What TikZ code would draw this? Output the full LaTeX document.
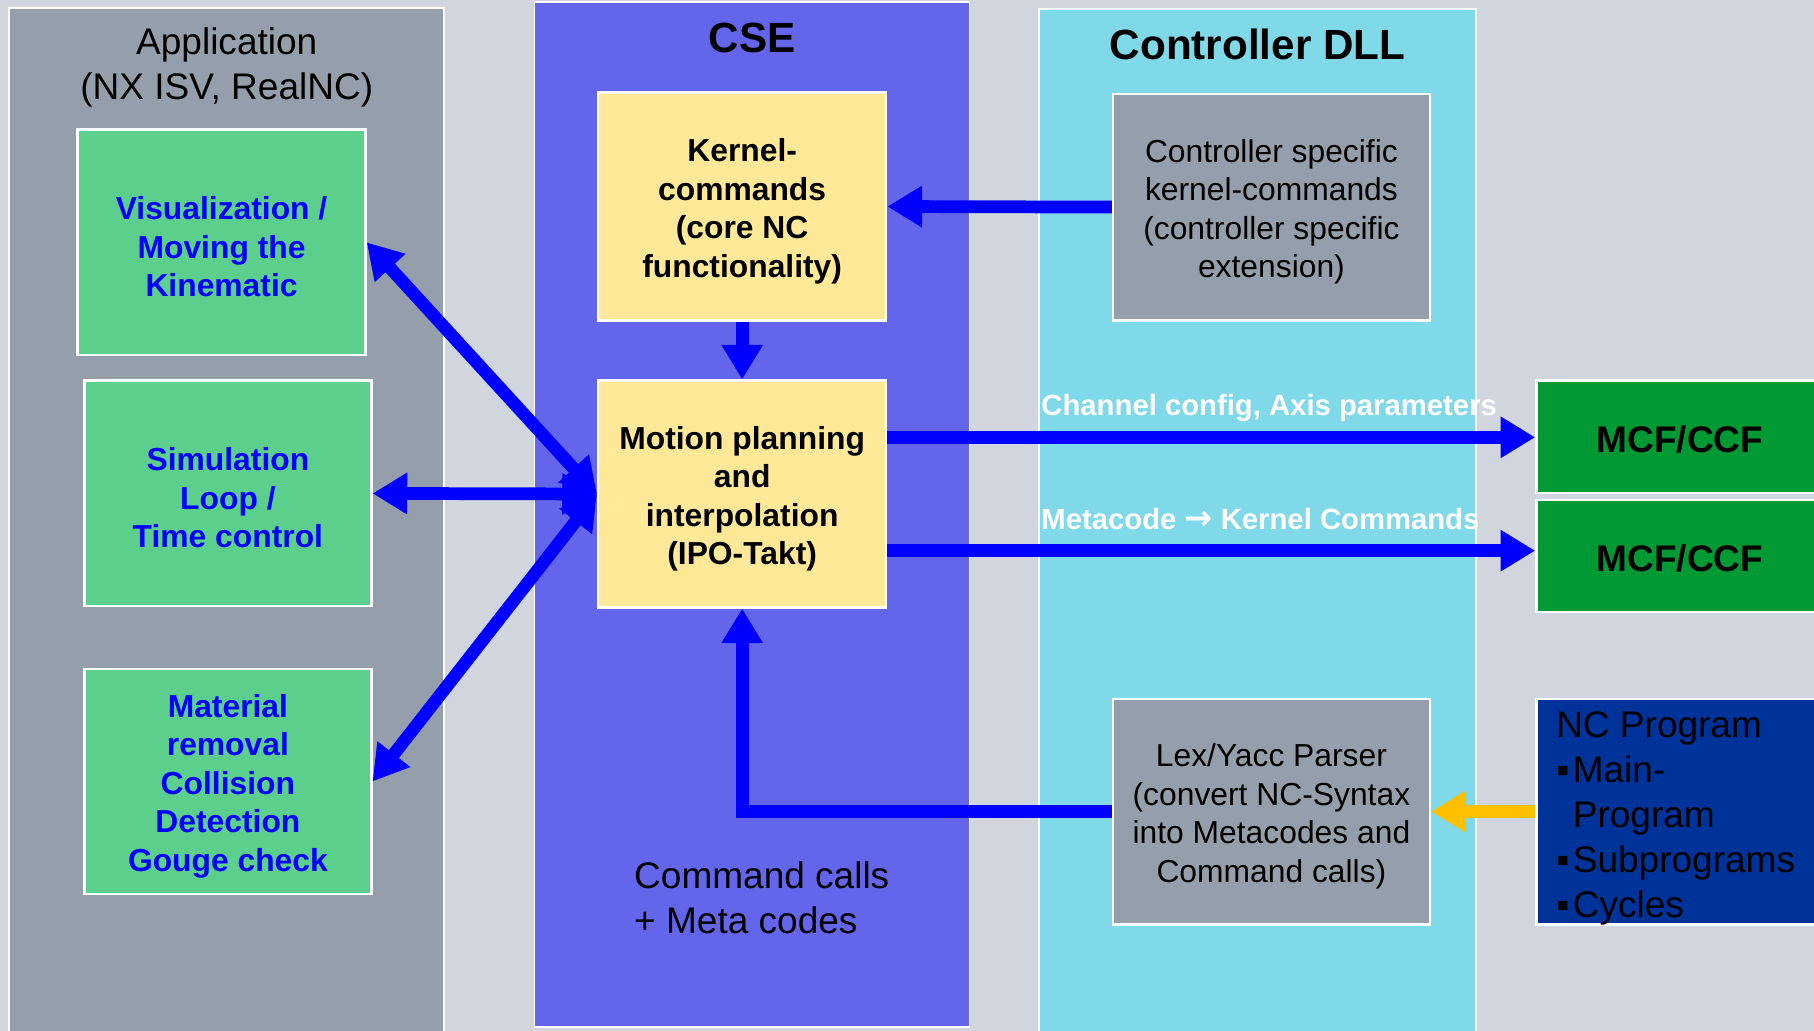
\documentclass[tikz,border=0pt]{standalone}
\usepackage{fontspec}
\setmainfont{Liberation Sans}
\newfontfamily\arrowfont{DejaVu Sans}
\usetikzlibrary{arrows.meta}

\definecolor{bg}{HTML}{D1D5DE}
\definecolor{appgray}{HTML}{959FAB}
\definecolor{cseblue}{HTML}{6366EB}
\definecolor{dllcyan}{HTML}{80D9E8}
\definecolor{boxgreen}{HTML}{5BCF8B}
\definecolor{boxyellow}{HTML}{FFE999}
\definecolor{mcfgreen}{HTML}{009933}
\definecolor{ncblue}{HTML}{003399}
\definecolor{flowblue}{HTML}{0000FF}
\definecolor{feedamber}{HTML}{FFC000}

\begin{document}
\begin{tikzpicture}[x=1pt,y=-1pt,
  panel/.style={draw=white, line width=1.5pt},
  block/.style={draw=white, line width=2pt, inner sep=0pt},
  inside/.style={inner sep=0pt, align=center, yshift=-4pt},
  boxtext/.style={font=\fontsize{27.5}{33.3}\selectfont},
  boxbold/.style={font=\bfseries\fontsize{27.5}{33.3}\selectfont},
  bigtext/.style={font=\fontsize{32}{39}\selectfont},
  titletext/.style={font=\bfseries\fontsize{36.5}{44}\selectfont},
  flowlabel/.style={font=\bfseries\fontsize{25.3}{30}\selectfont, text=white, inner sep=0pt, anchor=west},
  flow/.style={draw=flowblue, line width=11pt, -{Triangle[length=30pt,width=34pt]}},
  flowboth/.style={draw=flowblue, line width=11pt, {Triangle[length=30pt,width=34pt]}-{Triangle[length=30pt,width=34pt]}},
  feed/.style={draw=feedamber, line width=11pt, -{Triangle[length=30pt,width=34pt]}}
]
\clip (0,0) rectangle (1568,891);
\fill[bg] (0,0) rectangle (1568,891);

% layer panels
\filldraw[panel, fill=appgray] (8,7) rectangle (384,900);
\filldraw[panel, fill=cseblue] (462,2) rectangle (838,888);
\filldraw[panel, fill=dllcyan] (898,8) rectangle (1276,900);

% panel titles
\node[bigtext, align=center, inner sep=0pt] (apptitle) at (196,58) {Application\\(NX ISV, RealNC)};
\node[titletext, inner sep=0pt] (csetitle) at (650,33) {CSE};
\node[titletext, inner sep=0pt] (dlltitle) at (1087,38) {Controller DLL};

% application blocks
\node[block, fill=boxgreen, minimum width=249pt, minimum height=195pt] (vis) at (191.5,209.5) {};
\node[block, fill=boxgreen, minimum width=248pt, minimum height=195pt] (sim) at (197,426.5) {};
\node[block, fill=boxgreen, minimum width=248pt, minimum height=195pt] (mat) at (197,675.5) {};
\node[inside, boxbold, text=flowblue] (vistext) at (vis.center) {Visualization /\\Moving the\\Kinematic};
\node[inside, boxbold, text=flowblue] (simtext) at (sim.center) {Simulation\\Loop /\\Time control};
\node[inside, boxbold, text=flowblue] (mattext) at (mat.center) {Material\\removal\\Collision\\Detection\\Gouge check};

% CSE blocks
\node[block, fill=boxyellow, minimum width=249pt, minimum height=197pt] (kern) at (641.5,178.5) {};
\node[block, fill=boxyellow, minimum width=249pt, minimum height=196pt] (motion) at (641.5,427) {};
\node[inside, boxbold] (kerntext) at (kern.center) {Kernel-\\commands\\(core NC\\functionality)};
\node[inside, boxbold] (motiontext) at (motion.center) {Motion planning\\and\\interpolation\\(IPO-Takt)};
\node[bigtext, align=left, inner sep=0pt, anchor=west] (calls) at (548,776) {Command calls\\+ Meta codes};

% controller DLL blocks
\node[block, fill=appgray, minimum width=274pt, minimum height=196pt] (cs) at (1099,179) {};
\node[block, fill=appgray, minimum width=274pt, minimum height=195pt] (lex) at (1099,701.5) {};
\node[inside, boxtext] (cstext) at (cs.center) {Controller specific\\kernel-commands\\(controller specific\\extension)};
\node[inside, boxtext] (lextext) at (lex.center) {Lex/Yacc Parser\\(convert NC-Syntax\\into Metacodes and\\Command calls)};

% external files
\node[block, fill=mcfgreen, minimum width=248pt, minimum height=97pt] (mcfa) at (1452,377.5) {};
\node[block, fill=mcfgreen, minimum width=248pt, minimum height=97pt] (mcfb) at (1452,480.5) {};
\node[inner sep=0pt, font=\bfseries\fontsize{32}{39}\selectfont] (mcfatext) at ([yshift=-2pt]mcfa.center) {MCF/CCF};
\node[inner sep=0pt, font=\bfseries\fontsize{32}{39}\selectfont] (mcfbtext) at ([yshift=-2pt]mcfb.center) {MCF/CCF};
\node[block, fill=ncblue, minimum width=248pt, minimum height=195pt] (nc) at (1452,701.5) {};
\node[bigtext, inner sep=0pt, align=left, anchor=west] (nctext) at ([xshift=-107pt,yshift=-6pt]nc.center)
  {NC Program\\▪\hspace{3pt}Main-\\\hphantom{▪}\hspace{3pt}Program\\▪\hspace{3pt}Subprograms\\▪\hspace{3pt}Cycles};

% connectors
\draw[flow] (cs.west) -- (kern.east);
\draw[flow] (kern.south) -- (motion.north);
\draw[flow] ([yshift=49pt]motion.east) -- ([yshift=49pt]motion.east -| mcfa.west);
\draw[flow] ([yshift=-49pt]motion.east) -- ([yshift=-49pt]motion.east -| mcfb.west);
\draw[flow] (lex.west) -| (motion.south);
\draw[feed] (nc.west) -- (lex.east);
\draw[flowboth] (motion.west) -- (sim.east);
\draw[flowboth] (motion.west) -- (vis.east);
\draw[flowboth] (motion.west) -- (mat.east);

% connector labels
\node[flowlabel] (cfglabel) at (900,353) {Channel config, Axis parameters};
\node[flowlabel] (metalabel) at (900,449) {Metacode {\arrowfont\bfseries\fontsize{29}{30}\selectfont →} Kernel Commands};
\end{tikzpicture}
\end{document}
